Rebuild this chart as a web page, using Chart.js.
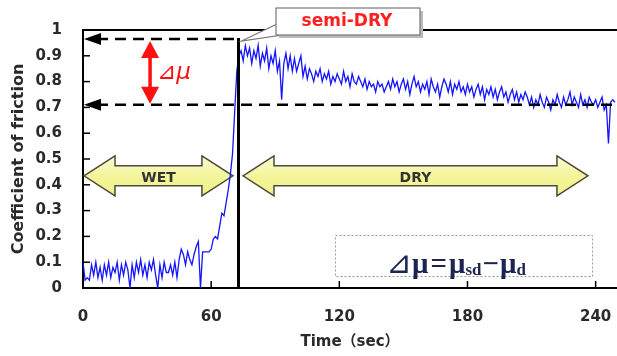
<!DOCTYPE html>
<html>
<head>
<meta charset="utf-8">
<script src="https://cdn.jsdelivr.net/npm/chart.js@4"></script>
<style>
  html, body { margin: 0; padding: 0; background: #fff; }
  canvas { display: block; }
</style>
</head>
<body>
<canvas id="chart" width="617" height="356"></canvas>
<script>
// friction coefficient sampled once per second, t = 0 .. 249 s
const friction = [
  0.10, 0.03, 0.04, 0.03, 0.09, 0.05, 0.10, 0.04, 0.08, 0.03,
  0.09, 0.05, 0.10, 0.04, 0.08, 0.06, 0.10, 0.03, 0.09, 0.05,
  0.10, 0.07, 0.00, 0.09, 0.04, 0.10, 0.06, 0.11, 0.05, 0.09,
  0.04, 0.10, 0.07, 0.11, 0.05, 0.00, 0.09, 0.04, 0.10, 0.06,
  0.06, 0.09, 0.05, 0.10, 0.04, 0.11, 0.15, 0.13, 0.09, 0.14,
  0.11, 0.09, 0.13, 0.16, 0.18, 0.00, 0.14, 0.14, 0.14, 0.14,
  0.15, 0.19, 0.20, 0.19, 0.24, 0.29, 0.28, 0.33, 0.38, 0.44,
  0.52, 0.68, 0.84, 0.90, 0.92, 0.88, 0.94, 0.90, 0.93, 0.87,
  0.92, 0.89, 0.94, 0.86, 0.91, 0.88, 0.93, 0.85, 0.90, 0.87,
  0.92, 0.84, 0.88, 0.73, 0.87, 0.91, 0.85, 0.90, 0.84, 0.89,
  0.84, 0.87, 0.90, 0.82, 0.86, 0.81, 0.85, 0.83, 0.80, 0.84,
  0.82, 0.85, 0.80, 0.83, 0.81, 0.84, 0.79, 0.82, 0.80, 0.83,
  0.81, 0.79, 0.84, 0.80, 0.82, 0.78, 0.83, 0.80, 0.79, 0.82,
  0.80, 0.78, 0.81, 0.77, 0.80, 0.78, 0.79, 0.76, 0.80, 0.78,
  0.79, 0.76, 0.78, 0.80, 0.77, 0.81, 0.78, 0.80, 0.76, 0.79,
  0.81, 0.77, 0.80, 0.75, 0.79, 0.82, 0.78, 0.80, 0.76, 0.79,
  0.77, 0.80, 0.75, 0.81, 0.78, 0.76, 0.79, 0.74, 0.78, 0.81,
  0.79, 0.76, 0.80, 0.75, 0.79, 0.77, 0.80, 0.76, 0.78, 0.75,
  0.79, 0.76, 0.78, 0.74, 0.77, 0.79, 0.75, 0.78, 0.73, 0.77,
  0.75, 0.78, 0.74, 0.77, 0.73, 0.76, 0.78, 0.74, 0.76, 0.72,
  0.75, 0.77, 0.73, 0.76, 0.72, 0.75, 0.73, 0.76, 0.74, 0.71,
  0.74, 0.70, 0.73, 0.71, 0.75, 0.72, 0.70, 0.74, 0.72, 0.69,
  0.73, 0.71, 0.75, 0.72, 0.70, 0.74, 0.71, 0.73, 0.76, 0.71,
  0.74, 0.72, 0.70, 0.75, 0.71, 0.73, 0.70, 0.74, 0.72, 0.71,
  0.73, 0.70, 0.72, 0.74, 0.69, 0.71, 0.56, 0.72, 0.73, 0.72
];
const sampleStep = 1; // seconds between samples

const xTicks = [0, 60, 120, 180, 240];
const yTicks = [0, 0.1, 0.2, 0.3, 0.4, 0.5, 0.6, 0.7, 0.8, 0.9, 1];
const yTickLabels = ['0', '0.1', '0.2', '0.3', '0.4', '0.5', '0.6', '0.7', '0.8', '0.9', '1'];

// annotation values
const semiDryTime = 72.8;   // sec, start of semi-dry
const muSemiDry = 0.965;    // mu_sd
const muDry = 0.71;         // mu_d
const deltaArrowTime = 31.4;
const wetZone = [0, 70.2];
const dryZone = [74.9, 236.4];
const zoneLevel = 0.435;

const points = friction.map((v, i) => ({ x: i * sampleStep, y: v }));

function blockArrow(ctx, x0, x1, yc, label) {
  const head = 31, hh = 20, sh = 10;
  ctx.save();
  const g = ctx.createLinearGradient(0, yc - hh, 0, yc + hh);
  g.addColorStop(0, '#fbfcd8');
  g.addColorStop(0.5, '#f3f59a');
  g.addColorStop(1, '#eef08c');
  ctx.beginPath();
  ctx.moveTo(x0, yc);
  ctx.lineTo(x0 + head, yc - hh);
  ctx.lineTo(x0 + head, yc - sh);
  ctx.lineTo(x1 - head, yc - sh);
  ctx.lineTo(x1 - head, yc - hh);
  ctx.lineTo(x1, yc);
  ctx.lineTo(x1 - head, yc + hh);
  ctx.lineTo(x1 - head, yc + sh);
  ctx.lineTo(x0 + head, yc + sh);
  ctx.lineTo(x0 + head, yc + hh);
  ctx.closePath();
  ctx.fillStyle = g;
  ctx.fill();
  ctx.strokeStyle = '#4a4a3a';
  ctx.lineWidth = 1.5;
  ctx.stroke();
  ctx.fillStyle = '#333';
  ctx.font = 'bold 14px "DejaVu Sans"';
  ctx.textAlign = 'center';
  ctx.textBaseline = 'middle';
  ctx.fillText(label, (x0 + x1) / 2, yc + 3);
  ctx.restore();
}

function leftHead(ctx, x, y) {
  ctx.beginPath();
  ctx.moveTo(x, y);
  ctx.lineTo(x + 17, y - 6);
  ctx.lineTo(x + 17, y + 6);
  ctx.closePath();
  ctx.fill();
}

const annotations = {
  id: 'annotations',
  beforeDatasetsDraw(chart) {
    const { ctx, scales: { x, y } } = chart;
    const yc = y.getPixelForValue(zoneLevel);
    blockArrow(ctx, x.getPixelForValue(wetZone[0]) + 1, x.getPixelForValue(wetZone[1]), yc, 'WET');
    blockArrow(ctx, x.getPixelForValue(dryZone[0]), x.getPixelForValue(dryZone[1]), yc, 'DRY');
  },
  afterDatasetsDraw(chart) {
    const { ctx, chartArea: a, scales: { x, y } } = chart;
    ctx.save();

    // top frame line
    ctx.strokeStyle = '#000';
    ctx.lineWidth = 2;
    ctx.beginPath();
    ctx.moveTo(a.left, a.top);
    ctx.lineTo(a.right, a.top);
    ctx.stroke();

    // inward tick marks
    ctx.lineWidth = 1.5;
    yTicks.forEach(v => {
      const py = y.getPixelForValue(v);
      ctx.beginPath();
      ctx.moveTo(a.left, py);
      ctx.lineTo(a.left + 7, py);
      ctx.stroke();
    });
    xTicks.forEach(v => {
      const px = x.getPixelForValue(v);
      ctx.beginPath();
      ctx.moveTo(px, a.bottom);
      ctx.lineTo(px, a.bottom - 7);
      ctx.stroke();
    });

    const xs = x.getPixelForValue(semiDryTime);
    const ySd = y.getPixelForValue(muSemiDry);
    const yD = y.getPixelForValue(muDry);

    // dashed level lines
    ctx.lineWidth = 2.5;
    ctx.setLineDash([11, 7]);
    ctx.beginPath();
    ctx.moveTo(a.left + 14, ySd);
    ctx.lineTo(xs, ySd);
    ctx.moveTo(a.left + 14, yD);
    ctx.lineTo(a.right, yD);
    ctx.stroke();
    ctx.setLineDash([]);
    ctx.fillStyle = '#000';
    leftHead(ctx, a.left + 1, ySd);
    leftHead(ctx, a.left + 1, yD);

    // vertical semi-dry marker
    ctx.lineWidth = 3;
    ctx.beginPath();
    ctx.moveTo(xs, ySd - 1);
    ctx.lineTo(xs, a.bottom);
    ctx.stroke();

    // red delta-mu double arrow
    const xa = x.getPixelForValue(deltaArrowTime);
    ctx.fillStyle = '#ff1010';
    ctx.strokeStyle = '#ff1010';
    ctx.lineWidth = 3.5;
    ctx.beginPath();
    ctx.moveTo(xa, ySd + 14);
    ctx.lineTo(xa, yD - 14);
    ctx.stroke();
    ctx.beginPath();
    ctx.moveTo(xa, ySd + 2);
    ctx.lineTo(xa - 9, ySd + 19);
    ctx.lineTo(xa + 9, ySd + 19);
    ctx.closePath();
    ctx.fill();
    ctx.beginPath();
    ctx.moveTo(xa, yD - 1);
    ctx.lineTo(xa - 9, yD - 18);
    ctx.lineTo(xa + 9, yD - 18);
    ctx.closePath();
    ctx.fill();
    ctx.font = 'italic 23px "DejaVu Sans"';
    ctx.textAlign = 'left';
    ctx.textBaseline = 'middle';
    ctx.fillText('⊿μ', xa + 7, (ySd + yD) / 2 + 1);

    // semi-DRY callout box
    ctx.fillStyle = '#fff';
    ctx.strokeStyle = '#777';
    ctx.lineWidth = 1.2;
    ctx.beginPath();
    ctx.moveTo(277, 24);
    ctx.lineTo(xs + 3, ySd + 2);
    ctx.lineTo(282, 35);
    ctx.closePath();
    ctx.fill();
    ctx.stroke();
    ctx.fillStyle = '#bbb';
    ctx.fillRect(279, 11, 144, 27);
    ctx.fillStyle = '#fff';
    ctx.fillRect(276, 8, 144, 27);
    ctx.strokeRect(276, 8, 144, 27);
    ctx.fillStyle = '#ff2020';
    ctx.font = 'bold 17px "DejaVu Sans"';
    ctx.textAlign = 'center';
    ctx.textBaseline = 'middle';
    ctx.fillText('semi-DRY', 347, 22);

    // formula box
    ctx.strokeStyle = '#999';
    ctx.lineWidth = 1;
    ctx.setLineDash([2, 2]);
    ctx.strokeRect(335.5, 235.5, 257, 41);
    ctx.setLineDash([]);
    ctx.fillStyle = '#1c2452';
    ctx.textAlign = 'left';
    ctx.textBaseline = 'alphabetic';
    let cx = 386;
    const base = 273;
    const big = '31px "DejaVu Sans"';
    const serif = 'bold 29px "Liberation Serif"';
    const sub = 'bold 17px "Liberation Serif"';
    ctx.font = big;
    ctx.fillText('⊿', cx, base);
    cx += ctx.measureText('⊿').width;
    ctx.font = serif;
    ctx.fillText('μ', cx, base);
    cx += ctx.measureText('μ').width + 2;
    ctx.fillText('=', cx, base);
    cx += ctx.measureText('=').width + 2;
    ctx.fillText('μ', cx, base);
    cx += ctx.measureText('μ').width;
    ctx.font = sub;
    ctx.fillText('sd', cx, base + 2);
    cx += ctx.measureText('sd').width + 1;
    ctx.font = serif;
    ctx.fillText('−', cx, base);
    cx += ctx.measureText('−').width + 1;
    ctx.fillText('μ', cx, base);
    cx += ctx.measureText('μ').width;
    ctx.font = sub;
    ctx.fillText('d', cx, base + 2);

    ctx.restore();
  }
};

new Chart(document.getElementById('chart'), {
  type: 'line',
  data: {
    datasets: [{
      data: points,
      borderColor: '#1414ff',
      borderWidth: 1.3,
      pointRadius: 0,
      tension: 0,
      fill: false
    }]
  },
  options: {
    responsive: false,
    animation: false,
    devicePixelRatio: 1,
    layout: { padding: { top: 28, right: 0, left: 0, bottom: 0 } },
    plugins: { legend: { display: false }, tooltip: { enabled: false } },
    scales: {
      x: {
        type: 'linear',
        min: 0,
        max: 250,
        afterBuildTicks: s => { s.ticks = xTicks.map(v => ({ value: v })); },
        afterFit: s => { s.height = 68; s.paddingLeft = 0; s.paddingRight = 0; },
        grid: { display: false, drawTicks: false },
        border: { display: true, color: '#000', width: 2 },
        ticks: {
          padding: 20,
          color: '#2a2a2a',
          font: { family: 'DejaVu Sans', size: 15, weight: 'bold' },
          maxRotation: 0
        },
        title: {
          display: true,
          text: 'Time（sec）',
          color: '#2a2a2a',
          font: { family: '"DejaVu Sans", "Noto Sans CJK JP"', size: 15, weight: 'bold' },
          padding: { top: 0, bottom: 5 }
        }
      },
      y: {
        min: 0,
        max: 1,
        afterBuildTicks: s => { s.ticks = yTicks.map(v => ({ value: v })); },
        afterFit: s => { s.width = 83; },
        grid: { display: false, drawTicks: false },
        border: { display: true, color: '#000', width: 2 },
        ticks: {
          padding: 21,
          color: '#2a2a2a',
          font: { family: 'DejaVu Sans', size: 15, weight: 'bold' },
          callback: (v, i) => yTickLabels[i]
        },
        title: {
          display: true,
          text: 'Coefficient of friction',
          color: '#2a2a2a',
          font: { family: 'DejaVu Sans', size: 16, weight: 'bold' },
          padding: { top: 9, bottom: 0 }
        }
      }
    }
  },
  plugins: [annotations]
});
</script>
</body>
</html>
